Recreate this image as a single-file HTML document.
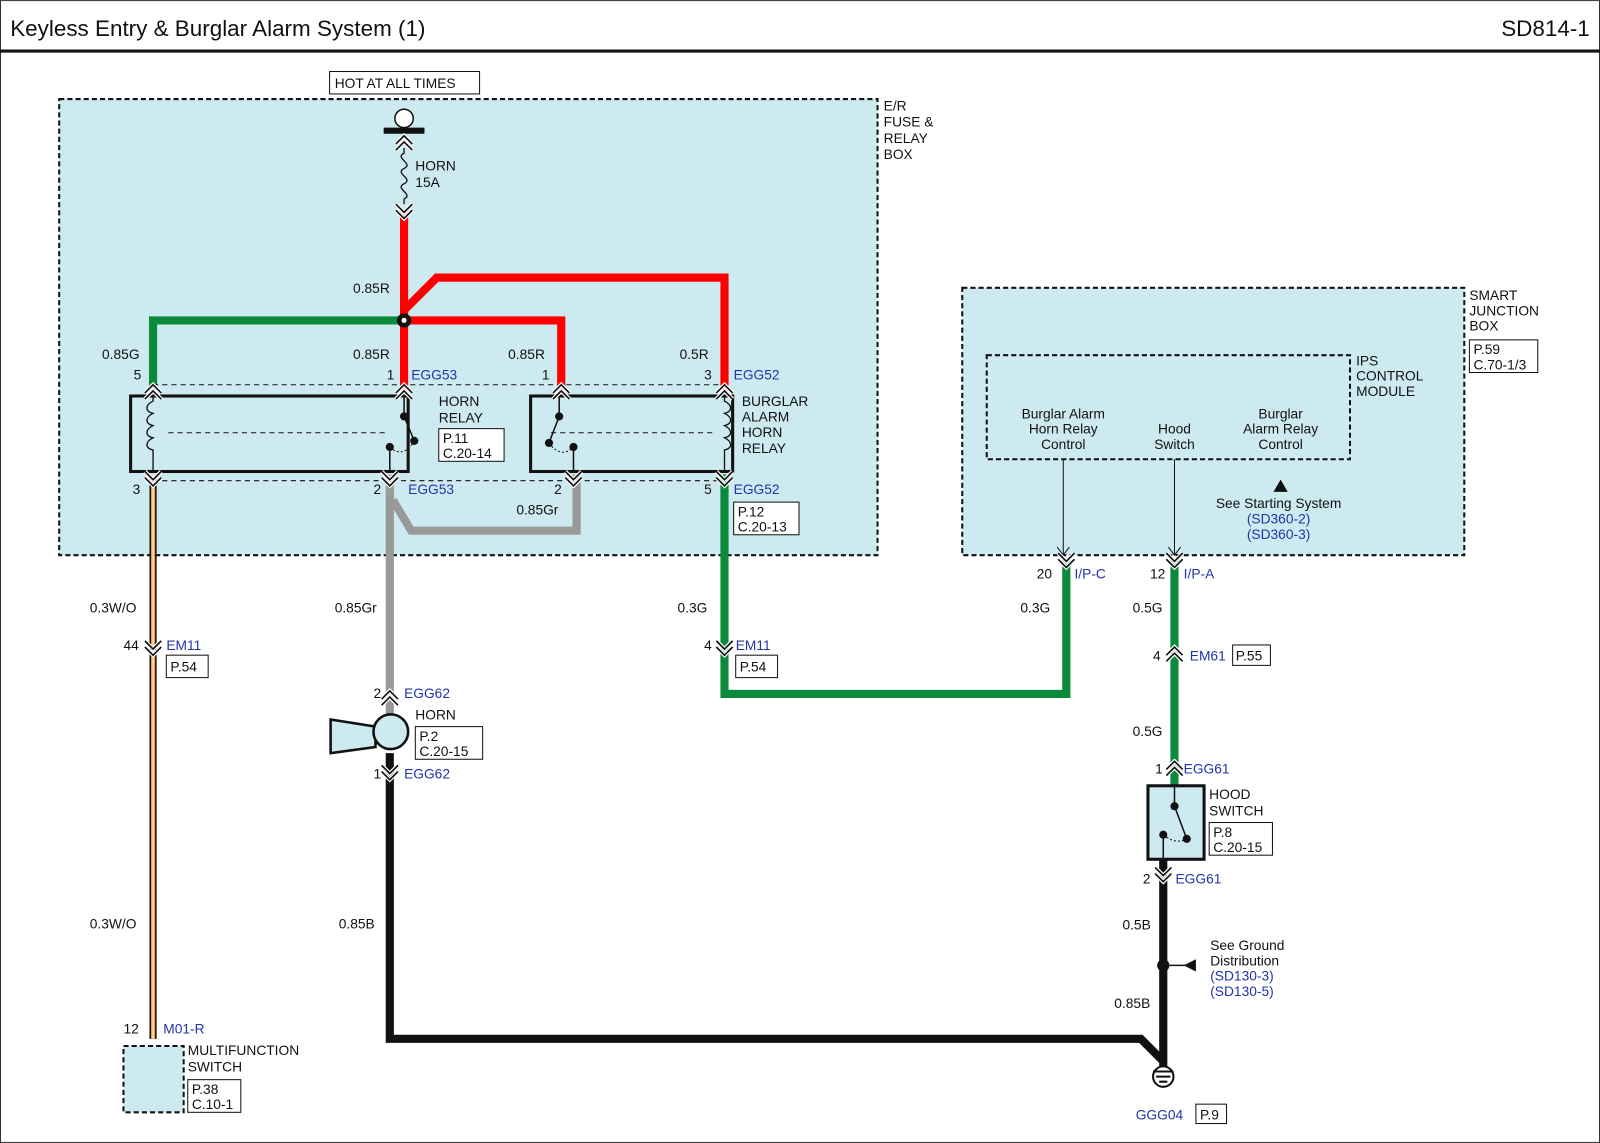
<!DOCTYPE html>
<html><head><meta charset="utf-8"><style>
html,body{margin:0;padding:0;background:#fff}
svg{display:block}
text{font-family:"Liberation Sans",Arial,sans-serif;font-size:13.5px;fill:#111}
.b{fill:#2233aa}
</style></head><body>
<svg width="1600" height="1143" viewBox="0 0 1568 1120" xmlns="http://www.w3.org/2000/svg">
<defs>
<g id="dn"><path d="M-8,-8 L0,0 L8,-8 M-8,-2 L0,6 L8,-2" fill="none" stroke="#fff" stroke-width="4"/><path d="M-8,-8 L0,0 L8,-8 M-8,-2 L0,6 L8,-2" fill="none" stroke="#111" stroke-width="1.6"/></g>
<g id="up"><path d="M-8,8 L0,0 L8,8 M-8,2 L0,-6 L8,2" fill="none" stroke="#fff" stroke-width="4"/><path d="M-8,8 L0,0 L8,8 M-8,2 L0,-6 L8,2" fill="none" stroke="#111" stroke-width="1.6"/></g>
</defs>
<rect x="0.5" y="0.5" width="1567" height="1119" fill="#fff" stroke="#333"/>
<text x="10" y="35" style="font-size:22px">Keyless Entry &amp; Burglar Alarm System (1)</text>
<text x="1558" y="35" text-anchor="end" style="font-size:22px">SD814-1</text>
<line x1="0" y1="50" x2="1568" y2="50" stroke="#111" stroke-width="3"/>

<rect x="58" y="97" width="802" height="447" fill="#cdeaf0" stroke="#111" stroke-width="2" stroke-dasharray="5,3"/>
<rect x="943" y="282" width="492" height="262" fill="#cdeaf0" stroke="#111" stroke-width="2" stroke-dasharray="5,3"/>
<rect x="967" y="348" width="356" height="102" fill="none" stroke="#111" stroke-width="2" stroke-dasharray="5,3"/>
<rect x="121" y="1025" width="59" height="65" fill="#cdeaf0" stroke="#111" stroke-width="2" stroke-dasharray="5,3"/>

<text x="866" y="108">E/R</text><text x="866" y="124">FUSE &amp;</text><text x="866" y="140">RELAY</text><text x="866" y="156">BOX</text>
<text x="1440" y="294">SMART</text><text x="1440" y="309">JUNCTION</text><text x="1440" y="324">BOX</text>
<rect x="1440" y="333" width="67" height="32" fill="#fff" stroke="#111"/><text x="1444" y="347">P.59</text><text x="1444" y="362">C.70-1/3</text>
<text x="1329" y="358">IPS</text><text x="1329" y="373">CONTROL</text><text x="1329" y="388">MODULE</text>

<rect x="323" y="70" width="147" height="22" fill="#fff" stroke="#111"/><text x="328" y="86">HOT AT ALL TIMES</text>
<circle cx="396" cy="116" r="9" fill="#fff" stroke="#111" stroke-width="1.5"/>
<line x1="376" y1="128" x2="416" y2="128" stroke="#111" stroke-width="6"/>
<path d="M396,145 L396,150 C386,155 406,160 396,165 C386,170 406,175 396,180 C386,185 406,190 396,195 L396,200" fill="none" stroke="#111" stroke-width="1.3"/>
<use href="#up" x="396" y="139"/>
<text x="407" y="167">HORN</text><text x="407" y="183">15A</text>

<g fill="none" stroke="#f00" stroke-width="8">
<path d="M396,205 L396,382"/>
<path d="M396,304 L428,272 L710,272 L710,382"/>
<path d="M396,314 L550,314 L550,382"/>
</g>
<use href="#dn" x="396" y="208"/>
<path d="M396,314 L150,314 L150,382" fill="none" stroke="#0a8a3a" stroke-width="8"/>
<circle cx="396" cy="314" r="7" fill="#111"/><circle cx="396" cy="314" r="2.5" fill="#fff"/>

<text x="346" y="287">0.85R</text><text x="100" y="352">0.85G</text><text x="346" y="352">0.85R</text>
<text x="498" y="352">0.85R</text><text x="666" y="352">0.5R</text>
<text x="403" y="372" class="b">EGG53</text><text x="719" y="372" class="b">EGG52</text>
<text x="131" y="372">5</text><text x="379" y="372">1</text><text x="531" y="372">1</text><text x="690" y="372">3</text>

<g stroke="#111" fill="none">
<line x1="150" y1="377" x2="710" y2="377" stroke-dasharray="5,4" stroke-width="1"/>
<line x1="150" y1="471" x2="710" y2="471" stroke-dasharray="5,4" stroke-width="1"/>
<rect x="128" y="388" width="272" height="74" stroke-width="3"/>
<rect x="520" y="388" width="198" height="74" stroke-width="3"/>
<line x1="165" y1="424" x2="380" y2="424" stroke-dasharray="5,4"/>
<line x1="540" y1="424" x2="700" y2="424" stroke-dasharray="5,4"/>
<path d="M150,388 v5 c-8,4 -8,10 0,12 c-8,4 -8,10 0,12 c-8,4 -8,10 0,12 c-8,4 -8,10 0,12 v20" stroke-width="1.3"/>
<path d="M710,388 v5 c8,4 8,10 0,12 c8,4 8,10 0,12 c8,4 8,10 0,12 c8,4 8,10 0,12 v20" stroke-width="1.3"/>
<path d="M396,388 V408 L406,432" stroke-width="1.5"/><path d="M382,438 V462" stroke-width="1.5"/>
<path d="M382,438 Q395,450 406,432" stroke-dasharray="2,2"/>
<path d="M548,388 V408 L538,434" stroke-width="1.5"/><path d="M562,438 V462" stroke-width="1.5"/>
<path d="M538,434 Q550,450 562,438" stroke-dasharray="2,2"/>
</g>
<g fill="#111"><circle cx="396" cy="408" r="4"/><circle cx="406" cy="432" r="4"/><circle cx="382" cy="438" r="4"/>
<circle cx="548" cy="408" r="4"/><circle cx="538" cy="434" r="4"/><circle cx="562" cy="438" r="4"/></g>
<use href="#up" x="150" y="383"/><use href="#up" x="396" y="383"/><use href="#up" x="550" y="383"/><use href="#up" x="710" y="383"/>
<text x="430" y="398">HORN</text><text x="430" y="414">RELAY</text>
<rect x="430" y="420" width="64" height="32" fill="#fff" stroke="#111"/><text x="434" y="434">P.11</text><text x="434" y="449">C.20-14</text>
<text x="727" y="398">BURGLAR</text><text x="727" y="413">ALARM</text><text x="727" y="428">HORN</text><text x="727" y="444">RELAY</text>

<path d="M150,465 V1018" stroke="#111" stroke-width="7"/>
<path d="M150,465 V1018" stroke="#f0a040" stroke-width="4"/>
<path d="M150,465 V1018" stroke="#fff" stroke-width="1"/>
<path d="M565,465 V520 L403,520 L385,490" fill="none" stroke="#999" stroke-width="8"/>
<path d="M382,465 V700" stroke="#999" stroke-width="8"/>
<path d="M710,465 V680 L1045,680 L1045,548" fill="none" stroke="#0a8a3a" stroke-width="8"/>
<path d="M1151,548 V770" stroke="#0a8a3a" stroke-width="8"/>
<path d="M382,738 V1018 L1118,1018 L1140,1040" fill="none" stroke="#111" stroke-width="8"/>
<path d="M1140,842 V1045" stroke="#111" stroke-width="8"/>
<use href="#dn" x="150" y="470"/><use href="#dn" x="382" y="470"/><use href="#dn" x="562" y="470"/><use href="#dn" x="710" y="470"/>

<text x="130" y="484">3</text><text x="366" y="484">2</text><text x="400" y="484" class="b">EGG53</text>
<text x="543" y="484">2</text><text x="506" y="504">0.85Gr</text><text x="690" y="484">5</text><text x="719" y="484" class="b">EGG52</text>
<rect x="719" y="492" width="64" height="32" fill="#fff" stroke="#111"/><text x="723" y="506">P.12</text><text x="723" y="521">C.20-13</text>

<text x="88" y="600">0.3W/O</text><text x="328" y="600">0.85Gr</text><text x="664" y="600">0.3G</text>
<text x="1000" y="600">0.3G</text><text x="1110" y="600">0.5G</text>
<use href="#dn" x="150" y="636"/><use href="#dn" x="710" y="636"/>
<text x="121" y="637">44</text><text x="163" y="637" class="b">EM11</text>
<rect x="163" y="642" width="41" height="22" fill="#fff" stroke="#111"/><text x="167" y="658">P.54</text>
<text x="690" y="637">4</text><text x="721" y="637" class="b">EM11</text>
<rect x="721" y="642" width="41" height="22" fill="#fff" stroke="#111"/><text x="725" y="658">P.54</text>

<use href="#up" x="382" y="683"/>
<text x="366" y="684">2</text><text x="396" y="684" class="b">EGG62</text>
<path d="M324,705 L368,712 L368,732 L324,738 Z" fill="#cdeaf0" stroke="#111" stroke-width="2.5"/>
<circle cx="383" cy="717" r="17" fill="#cdeaf0" stroke="#111" stroke-width="2.5"/>
<text x="407" y="705">HORN</text>
<rect x="407" y="712" width="66" height="32" fill="#fff" stroke="#111"/><text x="411" y="726">P.2</text><text x="411" y="741">C.20-15</text>
<use href="#dn" x="382" y="758"/>
<text x="366" y="763">1</text><text x="396" y="763" class="b">EGG62</text>
<text x="88" y="910">0.3W/O</text><text x="332" y="910">0.85B</text>

<g text-anchor="middle">
<text x="1042" y="410">Burglar Alarm</text><text x="1042" y="425">Horn Relay</text><text x="1042" y="440">Control</text>
<text x="1151" y="425">Hood</text><text x="1151" y="440">Switch</text>
<text x="1255" y="410">Burglar</text><text x="1255" y="425">Alarm Relay</text><text x="1255" y="440">Control</text>
<text x="1253" y="498">See Starting System</text>
<text x="1253" y="513" class="b">(SD360-2)</text><text x="1253" y="528" class="b">(SD360-3)</text>
</g>
<path d="M1042,450 V544 M1151,450 V544" stroke="#111" stroke-width="1"/>
<path d="M1036,536 L1042,544 L1048,536 M1145,536 L1151,544 L1157,536" fill="none" stroke="#111"/>
<path d="M1248,482 L1255,470 L1262,482 Z" fill="#111"/>
<use href="#dn" x="1045" y="550"/><use href="#dn" x="1151" y="550"/>
<text x="1016" y="567">20</text><text x="1053" y="567" class="b">I/P-C</text>
<text x="1127" y="567">12</text><text x="1160" y="567" class="b">I/P-A</text>
<use href="#up" x="1151" y="640"/>
<text x="1130" y="647">4</text><text x="1166" y="647" class="b">EM61</text>
<rect x="1208" y="632" width="37" height="20" fill="#fff" stroke="#111"/><text x="1211" y="647">P.55</text>
<text x="1110" y="721">0.5G</text>
<use href="#up" x="1151" y="752"/>
<text x="1132" y="758">1</text><text x="1160" y="758" class="b">EGG61</text>

<rect x="1125" y="770" width="55" height="72" fill="#cdeaf0" stroke="#111" stroke-width="3"/>
<path d="M1151,770 V790 L1163,822 M1140,818 V842" fill="none" stroke="#111" stroke-width="1.5"/>
<path d="M1140,818 Q1152,828 1163,822" fill="none" stroke="#111" stroke-dasharray="2,2"/>
<g fill="#111"><circle cx="1151" cy="790" r="4"/><circle cx="1163" cy="822" r="4"/><circle cx="1140" cy="818" r="4"/></g>
<text x="1185" y="783">HOOD</text><text x="1185" y="799">SWITCH</text>
<rect x="1185" y="806" width="62" height="32" fill="#fff" stroke="#111"/><text x="1189" y="820">P.8</text><text x="1189" y="835">C.20-15</text>
<use href="#dn" x="1140" y="858"/>
<text x="1120" y="866">2</text><text x="1152" y="866" class="b">EGG61</text>
<text x="1100" y="911">0.5B</text>
<circle cx="1140" cy="946" r="6" fill="#111"/>
<path d="M1140,946 H1162" stroke="#111" stroke-width="1.5"/><path d="M1160,946 L1172,940 L1172,952 Z" fill="#111"/>
<text x="1186" y="931">See Ground</text><text x="1186" y="946">Distribution</text>
<text x="1186" y="961" class="b">(SD130-3)</text><text x="1186" y="976" class="b">(SD130-5)</text>
<text x="1092" y="988">0.85B</text>
<circle cx="1140" cy="1055" r="10" fill="#fff" stroke="#111" stroke-width="2"/>
<path d="M1130,1050 H1150 M1133,1055 H1147 M1136,1060 H1144" stroke="#111" stroke-width="2"/>
<text x="1113" y="1097" class="b">GGG04</text>
<rect x="1172" y="1082" width="30" height="19" fill="#fff" stroke="#111"/><text x="1176" y="1097">P.9</text>

<text x="121" y="1013">12</text><text x="160" y="1013" class="b">M01-R</text>
<text x="184" y="1034">MULTIFUNCTION</text><text x="184" y="1050">SWITCH</text>
<rect x="184" y="1058" width="52" height="32" fill="#fff" stroke="#111"/><text x="188" y="1072">P.38</text><text x="188" y="1087">C.10-1</text>
</svg>
</body></html>
